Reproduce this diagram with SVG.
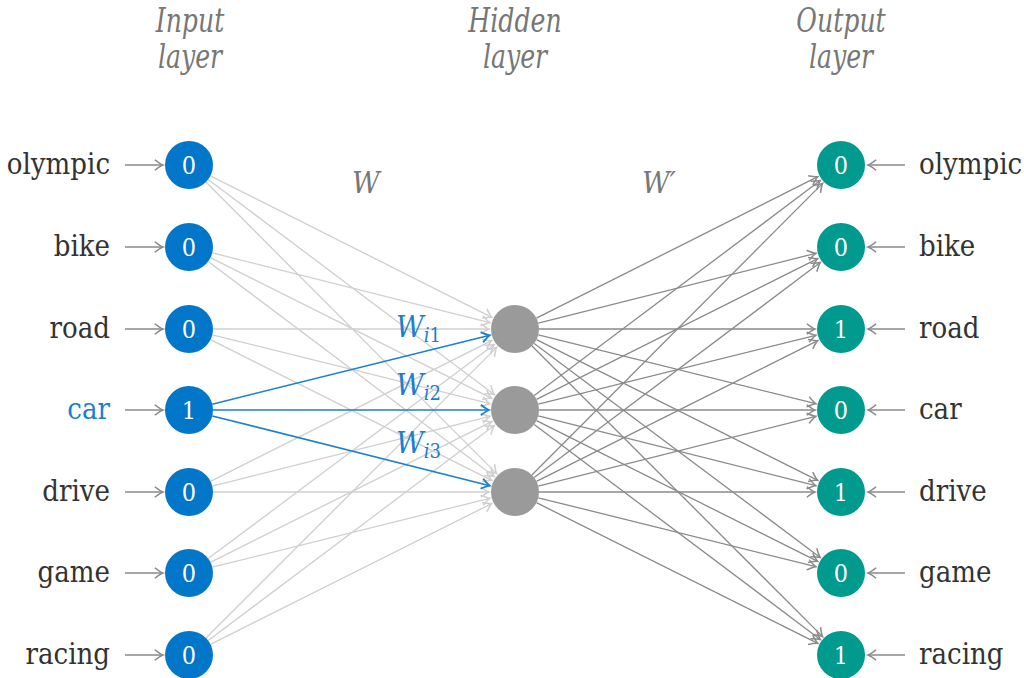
<svg xmlns="http://www.w3.org/2000/svg" width="1024" height="678" viewBox="0 0 1024 678">
<style>
text{font-family:"DejaVu Serif",serif}
.lbl{font-size:29px;fill:#333;font-stretch:condensed}
.hdr{font-size:28px;font-style:italic;fill:#777;text-anchor:middle;font-stretch:condensed}
.num{font-size:25px;fill:#fff;text-anchor:middle;font-stretch:condensed}
.wl{font-size:30px;font-style:italic;fill:#777;font-stretch:condensed}
.wb{font-size:30px;font-style:italic;fill:#1a7fd0;font-stretch:condensed}
.sub{font-size:20px}
.up{font-style:normal}
.inn{fill:#0277c9}
.hid{fill:#9a9a9a}
.out{fill:#009a8e}
.e1 line{stroke:#cfcfcf;stroke-width:1.3;marker-end:url(#ahL)}
.e2 line{stroke:#8a8a8a;stroke-width:1.3;marker-end:url(#ahD)}
.eb line{stroke:#1a7fd0;stroke-width:1.5;marker-end:url(#ahB)}
.ia line{stroke:#8a8a8a;stroke-width:1.3;marker-end:url(#ahD)}
</style>
<defs>
<marker id="ahL" markerUnits="userSpaceOnUse" markerWidth="14" markerHeight="14" refX="0" refY="0" viewBox="-8 -6 10 12" orient="auto" overflow="visible"><path d="M-7,-4.5 Q-2.5,-1 0,0 Q-2.5,1 -7,4.5" fill="none" stroke="#cfcfcf" stroke-width="1.3"/></marker>
<marker id="ahD" markerUnits="userSpaceOnUse" markerWidth="14" markerHeight="14" refX="0" refY="0" viewBox="-8 -6 10 12" orient="auto" overflow="visible"><path d="M-7,-4.5 Q-2.5,-1 0,0 Q-2.5,1 -7,4.5" fill="none" stroke="#8a8a8a" stroke-width="1.3"/></marker>
<marker id="ahB" markerUnits="userSpaceOnUse" markerWidth="14" markerHeight="14" refX="0" refY="0" viewBox="-8 -6 10 12" orient="auto" overflow="visible"><path d="M-7,-4.5 Q-2.5,-1 0,0 Q-2.5,1 -7,4.5" fill="none" stroke="#1a7fd0" stroke-width="1.5"/></marker>
</defs>
<rect width="1024" height="678" fill="#fff"/>

<g id="headers">
<text class="hdr" transform="translate(190,32) scale(1,1.2)">Input</text>
<text class="hdr" transform="translate(190,68) scale(1,1.2)">layer</text>
<text class="hdr" transform="translate(515,32) scale(1,1.2)">Hidden</text>
<text class="hdr" transform="translate(515,68) scale(1,1.2)">layer</text>
<text class="hdr" transform="translate(841,32) scale(1,1.2)">Output</text>
<text class="hdr" transform="translate(841,68) scale(1,1.2)">layer</text>
<text class="wl" x="352" y="193">W</text>
<text class="wl" x="642" y="193">W′</text>
</g>

<g id="connectors">
<g class="e1">
<line x1="210.4" y1="175.8" x2="491.8" y2="317.3"/>
<line x1="208.2" y1="179.4" x2="494.2" y2="394.4"/>
<line x1="205.9" y1="182.0" x2="496.6" y2="473.6"/>
<line x1="212.3" y1="252.9" x2="489.8" y2="322.7"/>
<line x1="210.5" y1="257.7" x2="491.7" y2="398.4"/>
<line x1="208.2" y1="261.4" x2="494.2" y2="476.4"/>
<line x1="213" y1="329" x2="489" y2="329"/>
<line x1="212.3" y1="334.8" x2="489.8" y2="403.7"/>
<line x1="210.5" y1="339.7" x2="491.7" y2="480.4"/>
<line x1="210.5" y1="481.3" x2="491.7" y2="340.6"/>
<line x1="212.3" y1="486.2" x2="489.8" y2="416.3"/>
<line x1="213" y1="492" x2="489" y2="492"/>
<line x1="208.2" y1="558.6" x2="494.2" y2="344.6"/>
<line x1="210.5" y1="562.3" x2="491.7" y2="421.6"/>
<line x1="212.3" y1="567.2" x2="489.8" y2="498.3"/>
<line x1="206.0" y1="638.0" x2="496.6" y2="347.4"/>
<line x1="208.2" y1="640.6" x2="494.2" y2="425.6"/>
<line x1="210.5" y1="644.3" x2="491.7" y2="503.6"/>
</g>
<g class="eb">
<line x1="212.3" y1="404.2" x2="489.8" y2="335.3"/>
<line x1="213" y1="410" x2="489" y2="410"/>
<line x1="212.3" y1="415.9" x2="489.8" y2="485.7"/>
</g>
<g class="e2">
<line x1="536.4" y1="318.2" x2="817.8" y2="176.7"/>
<line x1="538.3" y1="323.1" x2="815.8" y2="253.3"/>
<line x1="539" y1="329" x2="815" y2="329"/>
<line x1="538.3" y1="334.8" x2="815.8" y2="403.7"/>
<line x1="536.5" y1="339.7" x2="817.7" y2="480.4"/>
<line x1="534.2" y1="343.4" x2="820.2" y2="557.4"/>
<line x1="532.0" y1="346.0" x2="822.6" y2="636.6"/>
<line x1="534.2" y1="395.6" x2="820.2" y2="180.6"/>
<line x1="536.5" y1="399.3" x2="817.7" y2="258.6"/>
<line x1="538.3" y1="404.2" x2="815.8" y2="335.3"/>
<line x1="539" y1="410" x2="815" y2="410"/>
<line x1="538.3" y1="415.9" x2="815.8" y2="485.7"/>
<line x1="536.5" y1="420.7" x2="817.7" y2="561.4"/>
<line x1="534.2" y1="424.4" x2="820.2" y2="639.4"/>
<line x1="531.9" y1="475.0" x2="822.6" y2="183.4"/>
<line x1="534.2" y1="477.6" x2="820.2" y2="262.6"/>
<line x1="536.5" y1="481.3" x2="817.7" y2="340.6"/>
<line x1="538.3" y1="486.1" x2="815.8" y2="416.3"/>
<line x1="539" y1="492" x2="815" y2="492"/>
<line x1="538.3" y1="497.8" x2="815.8" y2="566.7"/>
<line x1="536.5" y1="502.7" x2="817.7" y2="643.4"/>
</g>
<g class="ia">
<line x1="125" y1="165" x2="163" y2="165"/>
<line x1="125" y1="247" x2="163" y2="247"/>
<line x1="125" y1="329" x2="163" y2="329"/>
<line x1="125" y1="410" x2="163" y2="410"/>
<line x1="125" y1="492" x2="163" y2="492"/>
<line x1="125" y1="573" x2="163" y2="573"/>
<line x1="125" y1="655" x2="163" y2="655"/>
<line x1="905" y1="165" x2="868" y2="165"/>
<line x1="905" y1="247" x2="868" y2="247"/>
<line x1="905" y1="329" x2="868" y2="329"/>
<line x1="905" y1="410" x2="868" y2="410"/>
<line x1="905" y1="492" x2="868" y2="492"/>
<line x1="905" y1="573" x2="868" y2="573"/>
<line x1="905" y1="655" x2="868" y2="655"/>
</g>
</g>

<g id="weights">
<text class="wb" x="396" y="337">W<tspan class="sub" dy="5">i</tspan><tspan class="sub up">1</tspan></text>
<text class="wb" x="396" y="395">W<tspan class="sub" dy="5">i</tspan><tspan class="sub up">2</tspan></text>
<text class="wb" x="396" y="453">W<tspan class="sub" dy="5">i</tspan><tspan class="sub up">3</tspan></text>
</g>

<g id="in-labels" class="lbl" text-anchor="end">
<text x="110" y="174">olympic</text>
<text x="110" y="256">bike</text>
<text x="110" y="338">road</text>
<text x="110" y="419" style="fill:#1a7fd0">car</text>
<text x="110" y="501">drive</text>
<text x="110" y="582">game</text>
<text x="110" y="664">racing</text>
</g>
<g id="out-labels" class="lbl">
<text x="919" y="174">olympic</text>
<text x="919" y="256">bike</text>
<text x="919" y="338">road</text>
<text x="919" y="419">car</text>
<text x="919" y="501">drive</text>
<text x="919" y="582">game</text>
<text x="919" y="664">racing</text>
</g>

<g id="in-olympic"><circle class="inn" cx="189" cy="165" r="24"/><text class="num" x="189" y="174">0</text></g>
<g id="in-bike"><circle class="inn" cx="189" cy="247" r="24"/><text class="num" x="189" y="256">0</text></g>
<g id="in-road"><circle class="inn" cx="189" cy="329" r="24"/><text class="num" x="189" y="338">0</text></g>
<g id="in-car"><circle class="inn" cx="189" cy="410" r="24"/><text class="num" x="189" y="419">1</text></g>
<g id="in-drive"><circle class="inn" cx="189" cy="492" r="24"/><text class="num" x="189" y="501">0</text></g>
<g id="in-game"><circle class="inn" cx="189" cy="573" r="24"/><text class="num" x="189" y="582">0</text></g>
<g id="in-racing"><circle class="inn" cx="189" cy="655" r="24"/><text class="num" x="189" y="664">0</text></g>

<g id="hid-1"><circle class="hid" cx="515" cy="329" r="24"/></g>
<g id="hid-2"><circle class="hid" cx="515" cy="410" r="24"/></g>
<g id="hid-3"><circle class="hid" cx="515" cy="492" r="24"/></g>

<g id="out-olympic"><circle class="out" cx="841" cy="165" r="24"/><text class="num" x="841" y="174">0</text></g>
<g id="out-bike"><circle class="out" cx="841" cy="247" r="24"/><text class="num" x="841" y="256">0</text></g>
<g id="out-road"><circle class="out" cx="841" cy="329" r="24"/><text class="num" x="841" y="338">1</text></g>
<g id="out-car"><circle class="out" cx="841" cy="410" r="24"/><text class="num" x="841" y="419">0</text></g>
<g id="out-drive"><circle class="out" cx="841" cy="492" r="24"/><text class="num" x="841" y="501">1</text></g>
<g id="out-game"><circle class="out" cx="841" cy="573" r="24"/><text class="num" x="841" y="582">0</text></g>
<g id="out-racing"><circle class="out" cx="841" cy="655" r="24"/><text class="num" x="841" y="664">1</text></g>
</svg>
